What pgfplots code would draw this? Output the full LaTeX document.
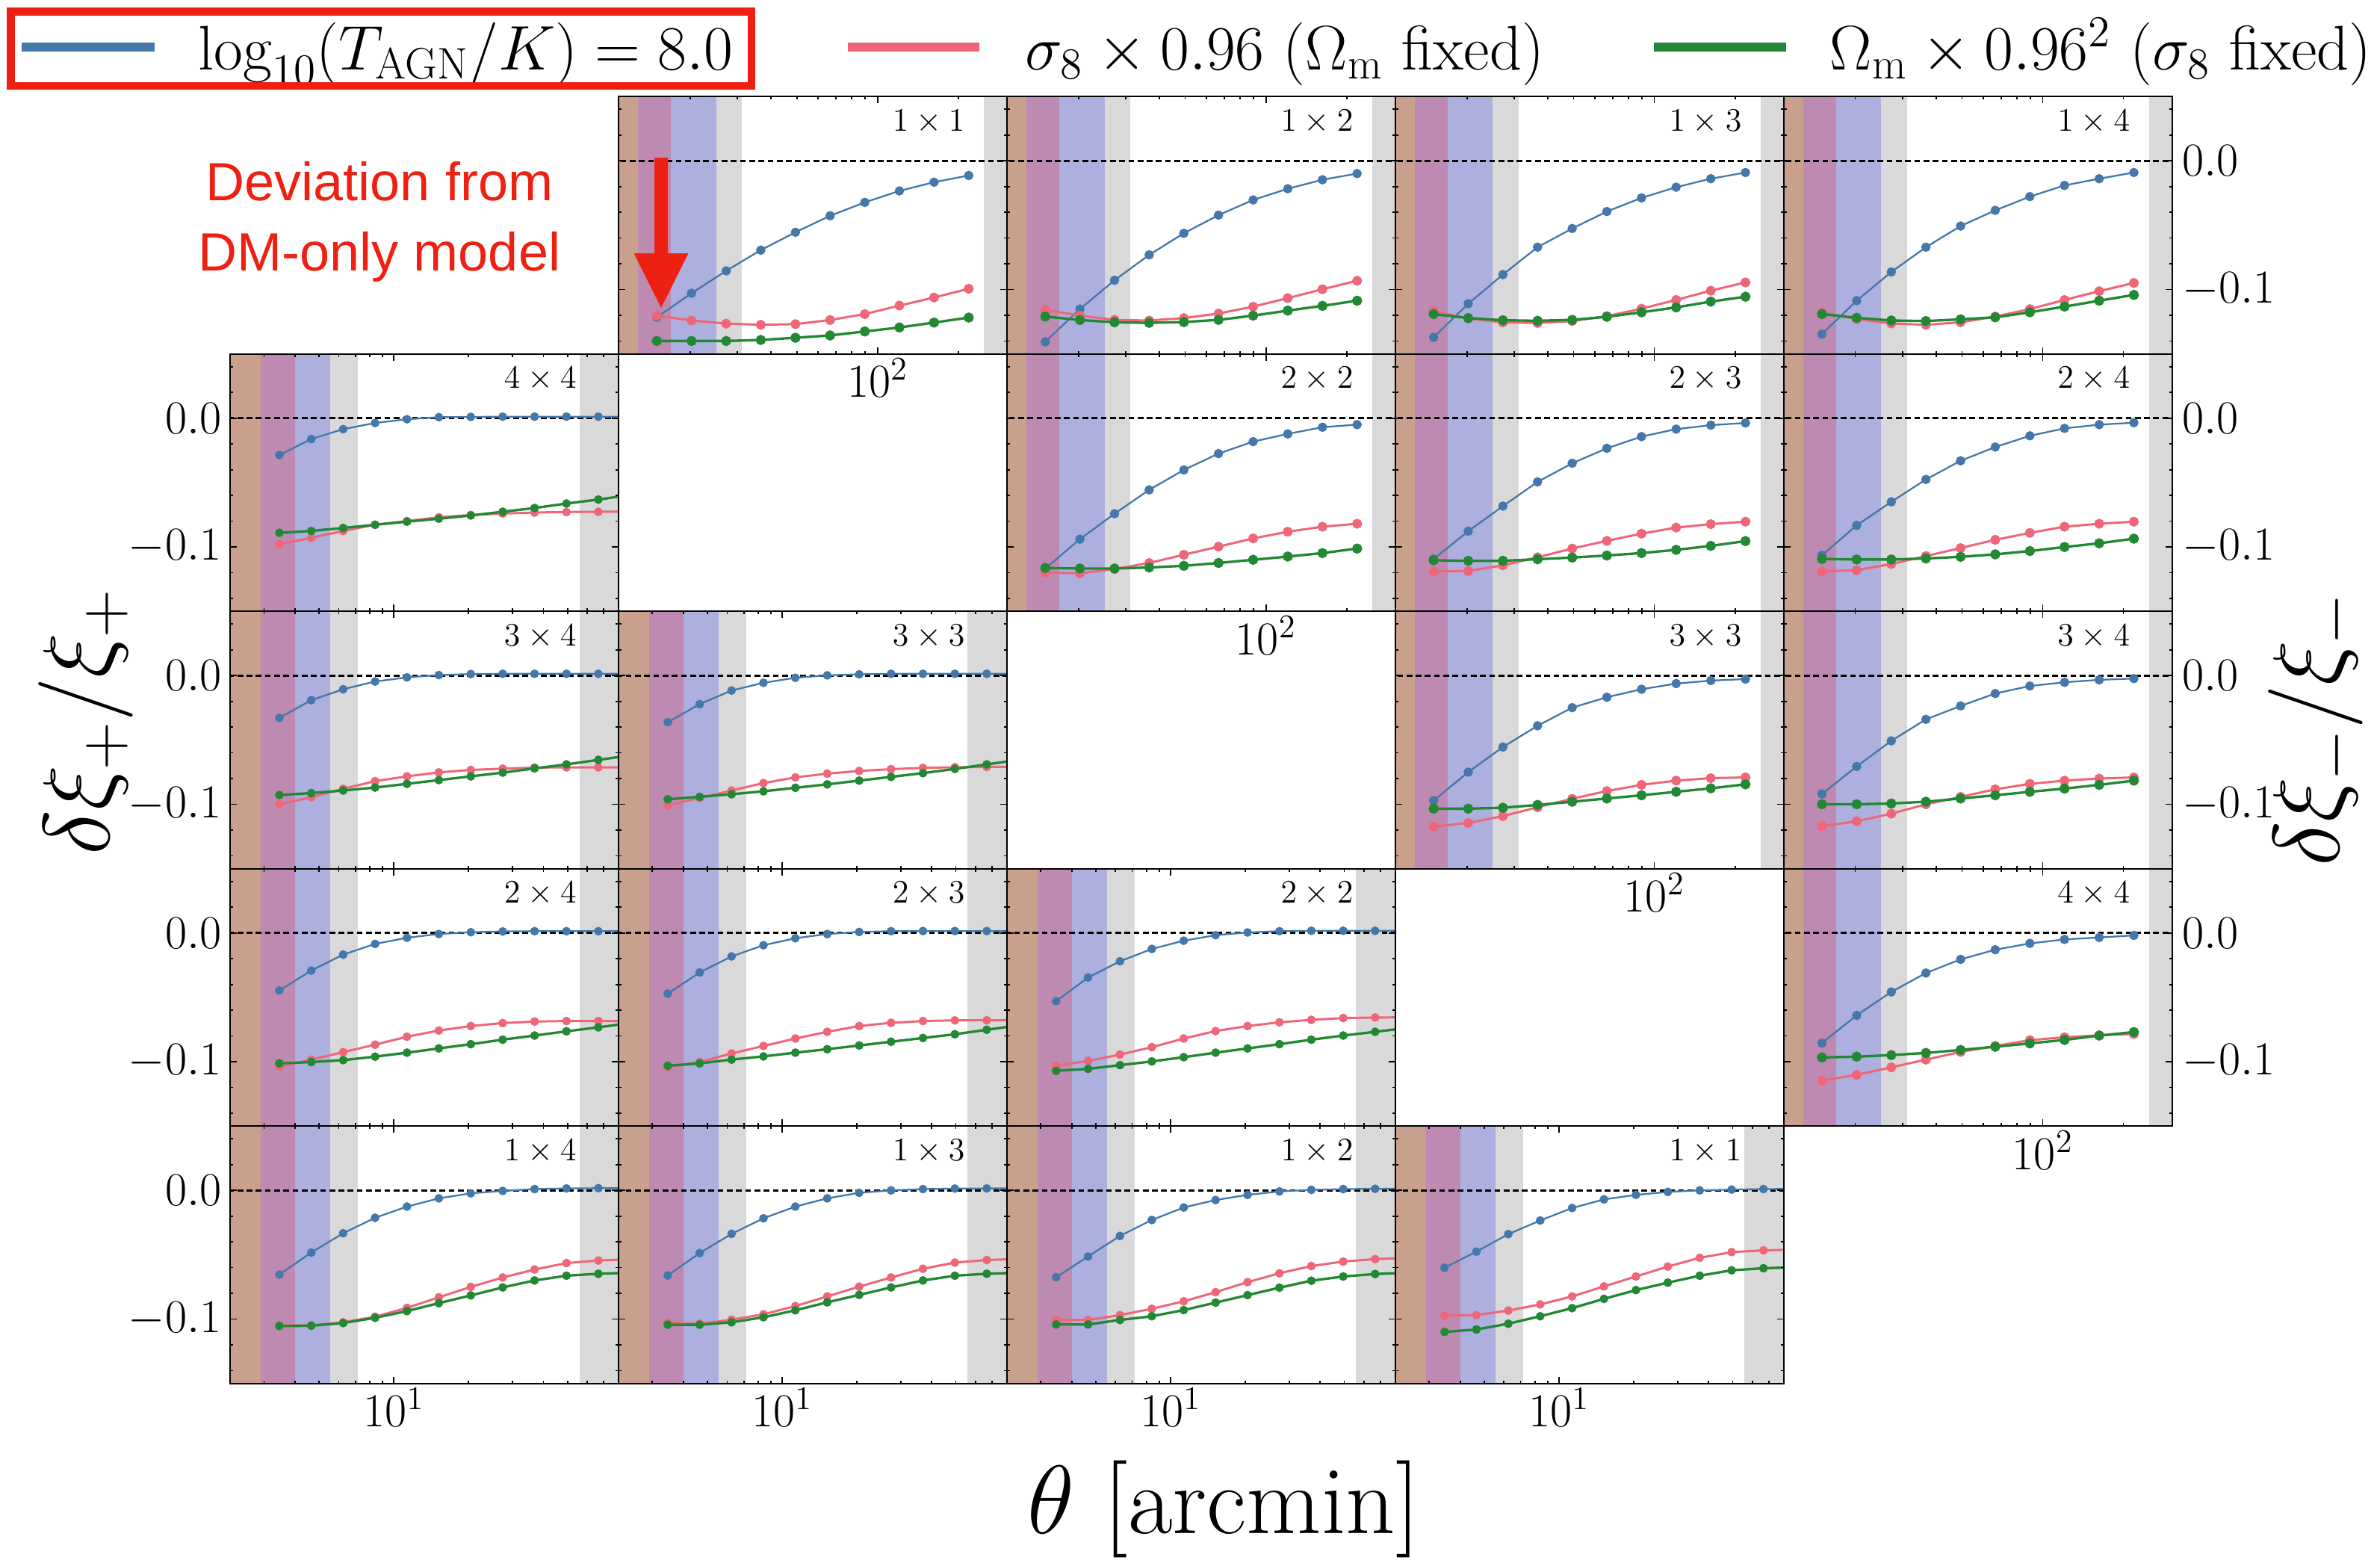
\RequirePackage{fix-cm}
\documentclass[border=0pt]{standalone}
\usepackage{fontspec}
\newfontfamily\annfont{Liberation Sans}
\usepackage{pgfplots}
\usepackage{pgfplotstable}
\pgfplotsset{compat=1.18}

\definecolor{cblue}{RGB}{68,119,170}
\definecolor{cred}{RGB}{238,102,119}
\definecolor{cgreen}{RGB}{34,136,51}
\definecolor{cbrown}{RGB}{201,160,140}
\definecolor{cpurple}{RGB}{190,138,178}
\definecolor{clblue}{RGB}{173,175,223}
\definecolor{cgrey}{RGB}{217,217,217}
\definecolor{cann}{RGB}{238,32,18}

% ---------------- xi_plus: theta, AGN (b), sigma8 (r), Omega_m (g)
\pgfplotstableread{
x b r g
3.459 -0.0286 -0.0980 -0.0891
4.649 -0.0162 -0.0930 -0.0876
6.249 -0.0085 -0.0876 -0.0853
8.400 -0.0037 -0.0828 -0.0828
11.29 -0.0008 -0.0799 -0.0804
15.17 0.0008 -0.0770 -0.0781
20.40 0.0010 -0.0752 -0.0756
27.42 0.0012 -0.0741 -0.0727
36.85 0.0012 -0.0733 -0.0698
49.53 0.0012 -0.0729 -0.0663
66.58 0.0012 -0.0727 -0.0632
89.49 0.0012 -0.0726 -0.0597
}\pFF
\pgfplotstableread{
x b r g
3.459 -0.0329 -0.1000 -0.0928
4.649 -0.0191 -0.0945 -0.0913
6.249 -0.0106 -0.0880 -0.0893
8.400 -0.0046 -0.0820 -0.0870
11.29 -0.0014 -0.0783 -0.0841
15.17 0.0004 -0.0752 -0.0812
20.40 0.0012 -0.0733 -0.0783
27.42 0.0014 -0.0723 -0.0754
36.85 0.0014 -0.0715 -0.0721
49.53 0.0014 -0.0713 -0.0690
66.58 0.0014 -0.0713 -0.0655
89.49 0.0014 -0.0713 -0.0620
}\pTF
\pgfplotstableread{
x b r g
3.459 -0.0362 -0.1009 -0.0961
4.649 -0.0222 -0.0951 -0.0942
6.249 -0.0116 -0.0893 -0.0922
8.400 -0.0056 -0.0835 -0.0899
11.29 -0.0017 -0.0791 -0.0872
15.17 0.0002 -0.0762 -0.0845
20.40 0.0010 -0.0741 -0.0816
27.42 0.0014 -0.0727 -0.0787
36.85 0.0014 -0.0717 -0.0758
49.53 0.0014 -0.0712 -0.0725
66.58 0.0014 -0.0710 -0.0690
89.49 0.0014 -0.0708 -0.0655
}\pTT
\pgfplotstableread{
x b r g
3.459 -0.0447 -0.1038 -0.1013
4.649 -0.0292 -0.0984 -0.1003
6.249 -0.0168 -0.0926 -0.0988
8.400 -0.0085 -0.0868 -0.0961
11.29 -0.0037 -0.0806 -0.0930
15.17 -0.0008 -0.0758 -0.0897
20.40 0.0006 -0.0723 -0.0864
27.42 0.0012 -0.0700 -0.0829
36.85 0.0014 -0.0688 -0.0797
49.53 0.0014 -0.0684 -0.0764
66.58 0.0014 -0.0684 -0.0733
89.49 0.0014 -0.0684 -0.0700
}\pWF
\pgfplotstableread{
x b r g
3.459 -0.0472 -0.1042 -0.1032
4.649 -0.0307 -0.1003 -0.1013
6.249 -0.0182 -0.0936 -0.0984
8.400 -0.0095 -0.0878 -0.0959
11.29 -0.0041 -0.0820 -0.0930
15.17 -0.0008 -0.0768 -0.0903
20.40 0.0008 -0.0723 -0.0874
27.42 0.0014 -0.0698 -0.0845
36.85 0.0015 -0.0684 -0.0816
49.53 0.0015 -0.0679 -0.0787
66.58 0.0015 -0.0679 -0.0752
89.49 0.0015 -0.0679 -0.0717
}\pWT
\pgfplotstableread{
x b r g
3.459 -0.0530 -0.1032 -0.1071
4.649 -0.0346 -0.0994 -0.1056
6.249 -0.0220 -0.0945 -0.1027
8.400 -0.0124 -0.0887 -0.0998
11.29 -0.0060 -0.0820 -0.0965
15.17 -0.0017 -0.0762 -0.0930
20.40 0.0004 -0.0723 -0.0897
27.42 0.0014 -0.0694 -0.0864
36.85 0.0017 -0.0675 -0.0829
49.53 0.0017 -0.0661 -0.0797
66.58 0.0017 -0.0657 -0.0768
89.49 0.0017 -0.0655 -0.0738
}\pWW
\pgfplotstableread{
x b r g
3.459 -0.0654 -0.1048 -0.1054
4.649 -0.0483 -0.1048 -0.1052
6.249 -0.0333 -0.1025 -0.1031
8.400 -0.0213 -0.0982 -0.0990
11.29 -0.0126 -0.0913 -0.0938
15.17 -0.0062 -0.0831 -0.0876
20.40 -0.0023 -0.0750 -0.0816
27.42 -0.0004 -0.0677 -0.0754
36.85 0.0010 -0.0615 -0.0700
49.53 0.0015 -0.0565 -0.0663
66.58 0.0017 -0.0545 -0.0648
89.49 0.0018 -0.0535 -0.0640
}\pOF
\pgfplotstableread{
x b r g
3.459 -0.0661 -0.1029 -0.1044
4.649 -0.0487 -0.1036 -0.1044
6.249 -0.0338 -0.1005 -0.1025
8.400 -0.0217 -0.0963 -0.0986
11.29 -0.0126 -0.0899 -0.0932
15.17 -0.0062 -0.0824 -0.0870
20.40 -0.0019 -0.0748 -0.0812
27.42 0.0000 -0.0677 -0.0754
36.85 0.0010 -0.0609 -0.0700
49.53 0.0014 -0.0561 -0.0663
66.58 0.0015 -0.0541 -0.0648
89.49 0.0016 -0.0533 -0.0640
}\pOT
\pgfplotstableread{
x b r g
3.459 -0.0675 -0.1007 -0.1042
4.649 -0.0514 -0.1007 -0.1042
6.249 -0.0354 -0.0969 -0.1007
8.400 -0.0230 -0.0920 -0.0978
11.29 -0.0133 -0.0862 -0.0930
15.17 -0.0075 -0.0791 -0.0872
20.40 -0.0035 -0.0713 -0.0814
27.42 -0.0008 -0.0644 -0.0756
36.85 0.0004 -0.0588 -0.0702
49.53 0.0010 -0.0553 -0.0669
66.58 0.0012 -0.0534 -0.0650
89.49 0.0013 -0.0525 -0.0640
}\pOW
\pgfplotstableread{
x b r g
3.459 -0.0601 -0.0973 -0.1100
4.649 -0.0476 -0.0969 -0.1081
6.249 -0.0340 -0.0934 -0.1036
8.400 -0.0234 -0.0886 -0.0978
11.29 -0.0137 -0.0824 -0.0915
15.17 -0.0070 -0.0746 -0.0843
20.40 -0.0035 -0.0669 -0.0775
27.42 -0.0012 -0.0592 -0.0717
36.85 0.0000 -0.0524 -0.0663
49.53 0.0006 -0.0480 -0.0621
66.58 0.0010 -0.0466 -0.0605
89.49 0.0012 -0.0460 -0.0597
}\pOO

% ---------------- xi_minus
\pgfplotstableread{
x b r g
15.03 -0.1216 -0.1203 -0.1400
20.24 -0.1029 -0.1241 -0.1400
27.25 -0.0855 -0.1265 -0.1400
36.69 -0.0694 -0.1274 -0.1392
49.41 -0.0555 -0.1269 -0.1375
66.53 -0.0427 -0.1237 -0.1357
89.58 -0.0323 -0.1191 -0.1326
120.6 -0.0234 -0.1125 -0.1295
162.4 -0.0166 -0.1062 -0.1257
218.7 -0.0114 -0.0994 -0.1218
}\mOO
\pgfplotstableread{
x b r g
15.03 -0.1406 -0.1158 -0.1210
20.24 -0.1152 -0.1203 -0.1237
27.25 -0.0928 -0.1236 -0.1255
36.69 -0.0731 -0.1241 -0.1259
49.41 -0.0563 -0.1222 -0.1253
66.53 -0.0422 -0.1187 -0.1236
89.58 -0.0304 -0.1133 -0.1203
120.6 -0.0217 -0.1067 -0.1164
162.4 -0.0147 -0.0998 -0.1127
218.7 -0.0099 -0.0932 -0.1087
}\mOW
\pgfplotstableread{
x b r g
15.03 -0.1371 -0.1168 -0.1191
20.24 -0.1110 -0.1226 -0.1222
27.25 -0.0884 -0.1255 -0.1239
36.69 -0.0671 -0.1261 -0.1243
49.41 -0.0526 -0.1245 -0.1236
66.53 -0.0394 -0.1207 -0.1212
89.58 -0.0288 -0.1149 -0.1177
120.6 -0.0205 -0.1081 -0.1139
162.4 -0.0139 -0.1009 -0.1094
218.7 -0.0091 -0.0945 -0.1056
}\mOT
\pgfplotstableread{
x b r g
15.03 -0.1346 -0.1178 -0.1191
20.24 -0.1087 -0.1230 -0.1220
27.25 -0.0864 -0.1264 -0.1241
36.69 -0.0671 -0.1274 -0.1245
49.41 -0.0507 -0.1255 -0.1232
66.53 -0.0385 -0.1210 -0.1216
89.58 -0.0278 -0.1152 -0.1177
120.6 -0.0191 -0.1081 -0.1133
162.4 -0.0139 -0.1013 -0.1087
218.7 -0.0091 -0.0949 -0.1042
}\mOF
\pgfplotstableread{
x b r g
15.03 -0.1168 -0.1200 -0.1164
20.24 -0.0940 -0.1205 -0.1168
27.25 -0.0742 -0.1172 -0.1168
36.69 -0.0557 -0.1125 -0.1160
49.41 -0.0402 -0.1061 -0.1147
66.53 -0.0275 -0.0998 -0.1125
89.58 -0.0182 -0.0934 -0.1100
120.6 -0.0122 -0.0882 -0.1075
162.4 -0.0070 -0.0843 -0.1048
218.7 -0.0050 -0.0820 -0.1013
}\mWW
\pgfplotstableread{
x b r g
15.03 -0.1094 -0.1191 -0.1104
20.24 -0.0878 -0.1187 -0.1108
27.25 -0.0683 -0.1143 -0.1108
36.69 -0.0495 -0.1081 -0.1096
49.41 -0.0350 -0.1013 -0.1083
66.53 -0.0234 -0.0953 -0.1067
89.58 -0.0143 -0.0897 -0.1048
120.6 -0.0085 -0.0850 -0.1023
162.4 -0.0054 -0.0823 -0.0992
218.7 -0.0037 -0.0804 -0.0955
}\mWT
\pgfplotstableread{
x b r g
15.03 -0.1065 -0.1191 -0.1094
20.24 -0.0833 -0.1181 -0.1098
27.25 -0.0650 -0.1133 -0.1098
36.69 -0.0476 -0.1071 -0.1090
49.41 -0.0331 -0.1009 -0.1077
66.53 -0.0224 -0.0945 -0.1058
89.58 -0.0137 -0.0891 -0.1032
120.6 -0.0079 -0.0843 -0.1001
162.4 -0.0050 -0.0820 -0.0972
218.7 -0.0035 -0.0804 -0.0936
}\mWF
\pgfplotstableread{
x b r g
15.03 -0.0971 -0.1174 -0.1034
20.24 -0.0750 -0.1145 -0.1034
27.25 -0.0555 -0.1092 -0.1027
36.69 -0.0390 -0.1023 -0.1005
49.41 -0.0249 -0.0957 -0.0980
66.53 -0.0168 -0.0897 -0.0955
89.58 -0.0106 -0.0849 -0.0930
120.6 -0.0062 -0.0816 -0.0903
162.4 -0.0039 -0.0797 -0.0876
218.7 -0.0027 -0.0791 -0.0845
}\mTT
\pgfplotstableread{
x b r g
15.03 -0.0920 -0.1170 -0.1000
20.24 -0.0706 -0.1132 -0.1000
27.25 -0.0507 -0.1073 -0.0994
36.69 -0.0340 -0.1000 -0.0980
49.41 -0.0236 -0.0942 -0.0955
66.53 -0.0139 -0.0884 -0.0930
89.58 -0.0081 -0.0841 -0.0903
120.6 -0.0052 -0.0816 -0.0878
162.4 -0.0033 -0.0800 -0.0849
218.7 -0.0023 -0.0791 -0.0816
}\mTF
\pgfplotstableread{
x b r g
15.03 -0.0855 -0.1148 -0.0967
20.24 -0.0640 -0.1102 -0.0961
27.25 -0.0458 -0.1044 -0.0949
36.69 -0.0311 -0.0984 -0.0932
49.41 -0.0205 -0.0924 -0.0909
66.53 -0.0130 -0.0878 -0.0884
89.58 -0.0081 -0.0833 -0.0858
120.6 -0.0050 -0.0810 -0.0831
162.4 -0.0035 -0.0795 -0.0797
218.7 -0.0019 -0.0785 -0.0770
}\mFF

% scale-cut bands and the zero line
\newcommand{\shadep}{%
  \fill[cbrown] (axis cs:1,-1) rectangle (axis cs:2.91,1);
  \fill[cpurple] (axis cs:2.91,-1) rectangle (axis cs:4.01,1);
  \fill[clblue] (axis cs:4.01,-1) rectangle (axis cs:5.54,1);
  \fill[cgrey] (axis cs:5.54,-1) rectangle (axis cs:7.16,1);
  \fill[cgrey] (axis cs:55.8,-1) rectangle (axis cs:1000,1);
  \draw[black, line width=0.8pt, dash pattern=on 2.2pt off 1.3pt] (axis cs:1,0) -- (axis cs:1000,0);
}
\newcommand{\shadem}{%
  \fill[cbrown] (axis cs:5,-1) rectangle (axis cs:12.8,1);
  \fill[cpurple] (axis cs:12.8,-1) rectangle (axis cs:17.0,1);
  \fill[clblue] (axis cs:17.0,-1) rectangle (axis cs:25.0,1);
  \fill[cgrey] (axis cs:25.0,-1) rectangle (axis cs:31.2,1);
  \fill[cgrey] (axis cs:249,-1) rectangle (axis cs:1000,1);
  \draw[black, line width=0.8pt, dash pattern=on 2.2pt off 1.3pt] (axis cs:5,0) -- (axis cs:1000,0);
}
% xi_plus curves: the last row lies beyond the axis and only its line segment shows
\newcommand{\curvesp}[1]{%
  \addplot[cblue, line width=0.65pt] table[x=x,y=b]{#1};
  \addplot[cblue, only marks, mark=*, mark size=1.45pt, skip coords between index={11}{12}] table[x=x,y=b]{#1};
  \addplot[cred, line width=0.85pt] table[x=x,y=r]{#1};
  \addplot[cred, only marks, mark=*, mark size=1.45pt, skip coords between index={11}{12}] table[x=x,y=r]{#1};
  \addplot[cgreen, line width=0.95pt] table[x=x,y=g]{#1};
  \addplot[cgreen, only marks, mark=*, mark size=1.45pt, skip coords between index={11}{12}] table[x=x,y=g]{#1};
}
\newcommand{\curvesm}[1]{%
  \addplot[cblue, line width=0.65pt, mark=*, mark size=1.45pt] table[x=x,y=b]{#1};
  \addplot[cred, line width=0.85pt, mark=*, mark size=1.45pt] table[x=x,y=r]{#1};
  \addplot[cgreen, line width=0.95pt, mark=*, mark size=1.45pt] table[x=x,y=g]{#1};
}
\newcommand{\plab}[2]{\node[anchor=base east, inner sep=0pt, font=\fontsize{12.5}{12.5}\selectfont] at (rel axis cs:0.893,0.8665) {$#1\times#2$};}

% one xi_plus panel: #1 extra axis options, #2 table, #3 #4 bin pair
\newcommand{\ppanel}[4]{%
\begin{axis}[scale only axis, width=5.199cm, height=3.445cm, anchor=north west,
  xmode=log, xmin=2.19, xmax=80.2, ymin=-0.15, ymax=0.05,
  xtick={10}, minor xtick={3,4,5,6,7,8,9,20,30,40,50,60,70},
  ytick={-0.1,0}, minor ytick={-0.14,-0.12,-0.08,-0.06,-0.04,-0.02,0.02,0.04},
  xticklabels={}, yticklabels={},
  tick align=inside, major tick length=0.09cm, minor tick length=0.04cm,
  tick style={black, line width=0.5pt}, axis line style={line width=0.55pt},
  axis on top,
  tick label style={font=\fontsize{18}{18}\selectfont},
  xticklabel style={anchor=north, inner sep=0pt, yshift=-0.06cm},
  #1]
\shadep
\curvesp{#2}
\plab{#3}{#4}
\end{axis}}
% one xi_minus panel
\newcommand{\mpanel}[4]{%
\begin{axis}[scale only axis, width=5.199cm, height=3.445cm, anchor=north west,
  xmode=log, xmin=10.81, xmax=303.4, ymin=-0.15, ymax=0.05,
  xtick={100}, minor xtick={20,30,40,50,60,70,80,90,200},
  ytick={-0.1,0}, minor ytick={-0.14,-0.12,-0.08,-0.06,-0.04,-0.02,0.02,0.04},
  xticklabels={}, yticklabels={},
  tick align=inside, major tick length=0.09cm, minor tick length=0.04cm,
  tick style={black, line width=0.5pt}, axis line style={line width=0.55pt},
  axis on top,
  tick label style={font=\fontsize{18}{18}\selectfont},
  xticklabel style={anchor=north, inner sep=0pt, yshift=-0.06cm},
  #1]
\shadem
\curvesm{#2}
\plab{#3}{#4}
\end{axis}}

\begin{document}
\begin{tikzpicture}
\useasboundingbox (0,0) rectangle (31.86,-20.95);

% ---------- row 0 : xi_minus, bin 1
\mpanel{at={(8.279cm,-1.291cm)}, xticklabels={$10^{2}$}}{\mOO}{1}{1}
\mpanel{at={(13.478cm,-1.291cm)}}{\mOW}{1}{2}
\mpanel{at={(18.677cm,-1.291cm)}}{\mOT}{1}{3}
\mpanel{at={(23.876cm,-1.291cm)}, yticklabel pos=right, yticklabels={$-0.1$,$0.0$}, yticklabel style={anchor=west, inner sep=0pt, xshift=0.13cm}}{\mOF}{1}{4}

% ---------- row 1
\ppanel{at={(3.080cm,-4.736cm)}, yticklabels={$-0.1$,$0.0$}, yticklabel style={anchor=east, inner sep=0pt, xshift=-0.11cm}}{\pFF}{4}{4}
\mpanel{at={(13.478cm,-4.736cm)}, xticklabels={$10^{2}$}}{\mWW}{2}{2}
\mpanel{at={(18.677cm,-4.736cm)}}{\mWT}{2}{3}
\mpanel{at={(23.876cm,-4.736cm)}, yticklabel pos=right, yticklabels={$-0.1$,$0.0$}, yticklabel style={anchor=west, inner sep=0pt, xshift=0.13cm}}{\mWF}{2}{4}

% ---------- row 2
\ppanel{at={(3.080cm,-8.181cm)}, yticklabels={$-0.1$,$0.0$}, yticklabel style={anchor=east, inner sep=0pt, xshift=-0.11cm}}{\pTF}{3}{4}
\ppanel{at={(8.279cm,-8.181cm)}}{\pTT}{3}{3}
\mpanel{at={(18.677cm,-8.181cm)}, xticklabels={$10^{2}$}}{\mTT}{3}{3}
\mpanel{at={(23.876cm,-8.181cm)}, yticklabel pos=right, yticklabels={$-0.1$,$0.0$}, yticklabel style={anchor=west, inner sep=0pt, xshift=0.13cm}}{\mTF}{3}{4}

% ---------- row 3
\ppanel{at={(3.080cm,-11.626cm)}, yticklabels={$-0.1$,$0.0$}, yticklabel style={anchor=east, inner sep=0pt, xshift=-0.11cm}}{\pWF}{2}{4}
\ppanel{at={(8.279cm,-11.626cm)}}{\pWT}{2}{3}
\ppanel{at={(13.478cm,-11.626cm)}}{\pWW}{2}{2}
\mpanel{at={(23.876cm,-11.626cm)}, xticklabels={$10^{2}$}, yticklabel pos=right, yticklabels={$-0.1$,$0.0$}, yticklabel style={anchor=west, inner sep=0pt, xshift=0.13cm}}{\mFF}{4}{4}

% ---------- row 4 : xi_plus, bin 1
\ppanel{at={(3.080cm,-15.071cm)}, xticklabels={$10^{1}$}, yticklabels={$-0.1$,$0.0$}, yticklabel style={anchor=east, inner sep=0pt, xshift=-0.11cm}}{\pOF}{1}{4}
\ppanel{at={(8.279cm,-15.071cm)}, xticklabels={$10^{1}$}}{\pOT}{1}{3}
\ppanel{at={(13.478cm,-15.071cm)}, xticklabels={$10^{1}$}}{\pOW}{1}{2}
\ppanel{at={(18.677cm,-15.071cm)}, xticklabels={$10^{1}$}}{\pOO}{1}{1}

% ---------- axis titles
\node[rotate=90, font=\fontsize{36}{36}\selectfont] at (1.15,-9.66) {$\delta\xi_+/\xi_+$};
\node[rotate=90, font=\fontsize{36}{36}\selectfont] at (31.00,-9.76) {$\delta\xi_-/\xi_-$};
\node[anchor=base, font=\fontsize{37}{37}\selectfont] at (16.38,-20.52) {$\theta\ [\mathrm{arcmin}]$};

% ---------- legend
\draw[cblue, line width=0.12cm] (0.29,-0.63) -- (2.07,-0.63);
\node[anchor=base west, inner sep=0pt, font=\fontsize{24}{24}\selectfont] at (2.65,-0.93) {$\log_{10}(T_{\mathrm{AGN}}/K) = 8.0$};
\draw[cred, line width=0.12cm] (11.35,-0.63) -- (13.11,-0.63);
\node[anchor=base west, inner sep=0pt, font=\fontsize{24}{24}\selectfont] at (13.72,-0.93) {$\sigma_8\times0.96$ ($\Omega_{\mathrm{m}}$ fixed)};
\draw[cgreen, line width=0.12cm] (22.14,-0.63) -- (23.91,-0.63);
\node[anchor=base west, inner sep=0pt, font=\fontsize{24}{24}\selectfont] at (24.49,-0.93) {$\Omega_{\mathrm{m}}\times0.96^2$ ($\sigma_8$ fixed)};
\draw[cann, line width=0.105cm] (0.143,-0.153) rectangle (10.06,-1.15);

% ---------- annotation
\node[anchor=base, text=cann, font={\annfont\fontsize{20.5}{20.5}\selectfont}] at (5.08,-2.68) {Deviation from};
\node[anchor=base, text=cann, font={\annfont\fontsize{20.5}{20.5}\selectfont}] at (5.08,-3.62) {DM-only model};
\fill[cann] (8.76,-2.11) -- (8.94,-2.11) -- (8.94,-3.39) -- (9.215,-3.39) -- (8.85,-4.12) -- (8.485,-3.39) -- (8.76,-3.39) -- cycle;
\end{tikzpicture}
\end{document}
